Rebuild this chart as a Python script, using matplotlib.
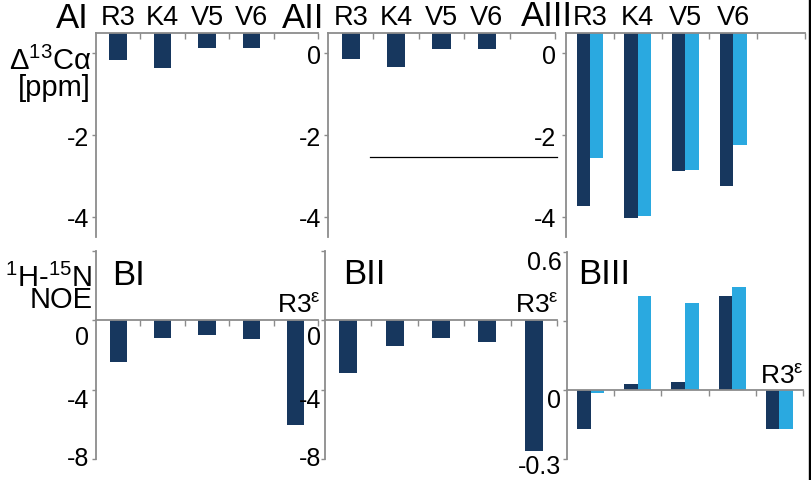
import numpy as np
import matplotlib.pyplot as plt
from matplotlib.patches import Rectangle
from matplotlib.transforms import ScaledTranslation

plt.rcParams['font.family'] = ['Liberation Sans', 'DejaVu Sans']
plt.rcParams['mathtext.fontset'] = 'custom'
plt.rcParams['mathtext.rm'] = 'Liberation Sans'
plt.rcParams['mathtext.default'] = 'regular'
plt.rcParams['axes.unicode_minus'] = False

# residues (5th slot R3-epsilon only used in the NOE row)
residues = ["R3", "K4", "V5", "V6"]
eps_label = "R3$^{ε}$"

# A: delta 13C-alpha [ppm] (bar ends, bars hang from the top axis)
a1 = [-0.16, -0.36, 0.13, 0.13]
a2 = [-0.14, -0.33, 0.11, 0.11]
a3_dark = [-3.74, -4.03, -2.88, -3.25]
a3_light = [-2.56, -3.99, -2.86, -2.25]

# B: 1H-15N NOE differences (R3, K4, V5, V6, R3eps)
b1 = [-2.4, -1.02, -0.85, -1.08, -6.04]
b2 = [-3.04, -1.48, -1.02, -1.25, -7.54]
b3_dark = [-0.17, 0.026, 0.034, 0.41, -0.17]
b3_light = [-0.013, 0.41, 0.38, 0.45, -0.17]

dark = "#17375e"
light = "#2aa9e0"
grey = "#8c8c8c"

TICK_FS = 18
CAT_FS = 19.5

W, H = 812, 481
fig = plt.figure(figsize=(W / 100, H / 100), dpi=100)


def box(x0, x1, y0, y1):
    return [x0 / W, 1 - y1 / H, (x1 - x0) / W, (y1 - y0) / H]


def fx(x):
    return x / W


def fy(y):
    return 1 - y / H


def draw_bars(ax, series, colors, width, base):
    n = len(series)
    for i, (vals, c) in enumerate(zip(series, colors)):
        x = np.arange(len(vals)) + (i - (n - 1) / 2) * width
        ax.bar(x, np.array(vals) - base, bottom=base, width=width, color=c,
               align='center')


def panel_a(rect, series, colors, width, ylabels, ypad):
    ax = fig.add_axes(rect)
    top = 0.5
    draw_bars(ax, series, colors, width, top)
    ax.set_xlim(-0.5, 4.5)
    ax.set_ylim(-4.5, top)
    for s in ['right', 'bottom']:
        ax.spines[s].set_visible(False)
    for s in ['left', 'top']:
        ax.spines[s].set_color(grey)
        ax.spines[s].set_linewidth(1.3)
    ax.xaxis.tick_top()
    ax.set_xticks(np.arange(5) + 0.5)
    ax.set_xticklabels([])
    ax.set_xticks(np.arange(len(residues)), residues, minor=True)
    ax.tick_params(axis='x', which='major', direction='in', length=4,
                   color=grey, width=1)
    ax.tick_params(axis='x', which='minor', length=0, labelsize=CAT_FS, pad=2)
    ax.set_yticks([0, -2, -4], ylabels)
    ax.tick_params(axis='y', direction='out', length=3, width=1, color=grey,
                   labelsize=TICK_FS, pad=ypad)
    return ax


def panel_b(rect, series, colors, width, ylim, yticks, ylabels, ypad, eps_dy,
            label_shift):
    ax = fig.add_axes(rect)
    draw_bars(ax, series, colors, width, 0)
    ax.set_xlim(-0.5, 4.5)
    ax.set_ylim(*ylim)
    for s in ['right', 'top']:
        ax.spines[s].set_visible(False)
    for s in ['left', 'bottom']:
        ax.spines[s].set_color(grey)
        ax.spines[s].set_linewidth(1.3)
    ax.spines['bottom'].set_position(('data', 0))
    ax.set_xticks(np.arange(5) + 0.5)
    ax.set_xticklabels([])
    ax.tick_params(axis='x', direction='out', length=4, color=grey, width=1)
    ax.set_yticks(yticks, ylabels)
    ax.tick_params(axis='y', direction='out', length=3, width=1, color=grey,
                   labelsize=TICK_FS, pad=ypad)
    # the pasted labels sit a little below their ticks
    for lab, dy in zip(ax.get_yticklabels(), label_shift):
        lab.set_transform(lab.get_transform() +
                          ScaledTranslation(0, -dy / 100, fig.dpi_scale_trans))
    ax.annotate(eps_label, xy=(4, 0), xytext=(2, eps_dy),
                textcoords='offset points', ha='center', va='baseline',
                fontsize=19, annotation_clip=False)
    return ax


ax_a1 = panel_a(box(96, 318, 34, 238), [a1], [dark], 0.4, ["", "-2", "-4"], 2)
ax_a2 = panel_a(box(328, 555, 34, 238), [a2], [dark], 0.4, ["0", "-2", "-4"], 2)
ax_a3 = panel_a(box(566, 805, 34, 238), [a3_dark, a3_light], [dark, light],
                0.28, ["0", "-2", "-4"], 4)

# stray rule inside AII
ax_a2.plot([0.185, 1.01], [0.39, 0.39], transform=ax_a2.transAxes,
           color='black', lw=0.9, clip_on=False)

ax_b1 = panel_b(box(96, 318, 252, 460), [b1], [dark], 0.39, (-8, 4),
                [4, 0, -4, -8], ["", "0", "-4", "-8"], 2, 6, [0, 14, 8, -3])
ax_b2 = panel_b(box(325, 557, 252, 460), [b2], [dark], 0.39, (-8, 4),
                [4, 0, -4, -8], ["", "0", "-4", "-8"], 0, 6, [0, 14, 8, -3])
ax_b3 = panel_b(box(567, 803, 253, 460), [b3_dark, b3_light], [dark, light],
                0.29, (-0.3, 0.6), [0.6, 0.3, 0, -0.3],
                ["0.6", "", "0", "-0.3"], 1, 5.5, [7, 0, 7, 5])

# panel titles
for txt, x, y in [("AI", 89, 28), ("AII", 324, 28), ("AIII", 573, 26)]:
    fig.text(fx(x), fy(y), txt, fontsize=25, ha='right', va='baseline')
for txt, x, y in [("BI", 112, 285), ("BII", 343, 284), ("BIII", 578, 284)]:
    fig.text(fx(x), fy(y), txt, fontsize=25, ha='left', va='baseline')

# row labels
fig.text(fx(91), fy(96), "Δ$^{13}$Cα\n[ppm]", fontsize=21, ha='right',
         va='baseline', multialignment='right', linespacing=0.9)
fig.text(fx(93), fy(308), "$^{1}$H-$^{15}$N\nNOE", fontsize=21, ha='right',
         va='baseline', multialignment='right', linespacing=0.68)

# dark edge on the right of the original image
fig.add_artist(Rectangle((fx(809), 0), 3 / W, 1, color='black',
                         transform=fig.transFigure))

fig.savefig("out.png", dpi=100)
